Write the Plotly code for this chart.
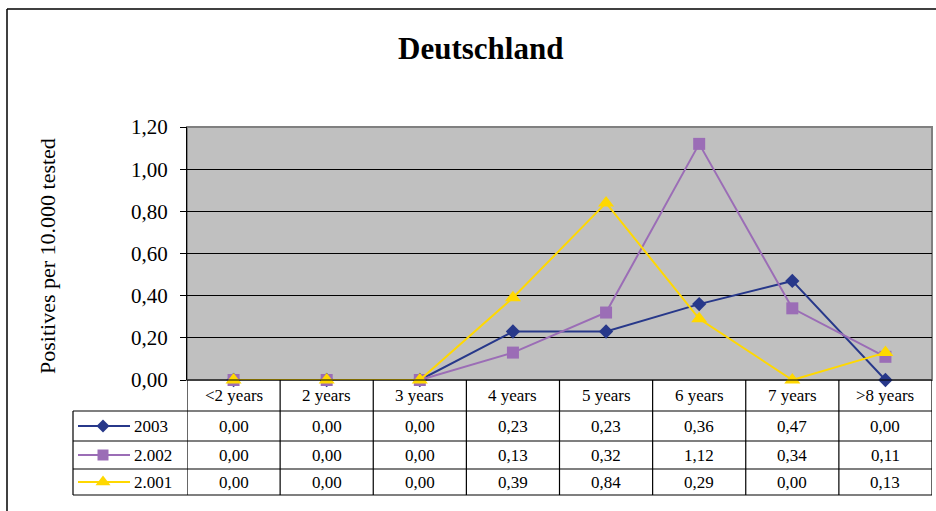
import plotly.graph_objects as go

# Age groups and rates of positives per 10.000 tested
categories = ["<2 years", "2 years", "3 years", "4 years", "5 years", "6 years", "7 years", ">8 years"]
series_names = ["2003", "2.002", "2.001"]
values_2003 = [0.00, 0.00, 0.00, 0.23, 0.23, 0.36, 0.47, 0.00]
values_2002 = [0.00, 0.00, 0.00, 0.13, 0.32, 1.12, 0.34, 0.11]
values_2001 = [0.00, 0.00, 0.00, 0.39, 0.84, 0.29, 0.00, 0.13]
y_ticks = [0.0, 0.2, 0.4, 0.6, 0.8, 1.0, 1.2]

series_values = [values_2003, values_2002, values_2001]
colors = ["#27388A", "#9B6DB6", "#FFD800"]
symbols = ["diamond", "square", "triangle-up"]
marker_sizes = [11, 12, 14]

W, H = 936, 511
SERIF = "Liberation Serif, Times New Roman, serif"


def fx(x):
    return x / W


def fy(y):
    return 1 - y / H


# pixel layout of the plot area and data table
PL, PR, PT, PB = 187, 932, 127, 380
TL = 73
ROW_LINES = [411, 441, 469, 495]
ROW_CENTERS = [426, 455, 482]
HEADER_CENTER = 395

fig = go.Figure()

for name, vals, col, sym, ms in zip(series_names, series_values, colors, symbols, marker_sizes):
    fig.add_trace(go.Scatter(
        x=categories, y=vals, name=name, mode="lines+markers",
        line=dict(color=col, width=2),
        marker=dict(symbol=sym, size=ms, color=col),
        cliponaxis=False, showlegend=False, hoverinfo="skip",
    ))

# legend keys inside the data table (pixel-coordinate overlay axes)
for name, col, sym, ms, rc in zip(series_names, colors, symbols, marker_sizes, ROW_CENTERS):
    fig.add_trace(go.Scatter(
        x=[78, 130], y=[rc, rc], mode="lines", line=dict(color=col, width=2),
        xaxis="x2", yaxis="y2", showlegend=False, hoverinfo="skip",
    ))
    fig.add_trace(go.Scatter(
        x=[103], y=[rc], mode="markers", marker=dict(symbol=sym, size=ms - 1, color=col),
        xaxis="x2", yaxis="y2", showlegend=False, hoverinfo="skip",
    ))

shapes = []
# outer chart frame
shapes.append(dict(type="line", xref="paper", yref="paper", x0=fx(7), x1=fx(7), y0=fy(9), y1=0,
                   line=dict(color="black", width=1.5)))
shapes.append(dict(type="line", xref="paper", yref="paper", x0=fx(7), x1=1, y0=fy(9), y1=fy(9),
                   line=dict(color="black", width=1.5)))
# gray plot area
shapes.append(dict(type="rect", xref="x domain", yref="y domain", x0=0, x1=1, y0=0, y1=1,
                   fillcolor="#C0C0C0", line=dict(color="#808080", width=2), layer="below"))

# table horizontal lines
shapes.append(dict(type="line", xref="paper", yref="paper", x0=fx(PL), x1=fx(PR), y0=fy(PB), y1=fy(PB),
                   line=dict(color="black", width=1.2)))
for ry in ROW_LINES:
    shapes.append(dict(type="line", xref="paper", yref="paper", x0=fx(TL), x1=fx(PR), y0=fy(ry), y1=fy(ry),
                       line=dict(color="black", width=1.2)))
# table vertical lines
shapes.append(dict(type="line", xref="paper", yref="paper", x0=fx(TL), x1=fx(TL),
                   y0=fy(ROW_LINES[0]), y1=fy(ROW_LINES[-1]), line=dict(color="black", width=1.2)))
for i in range(len(categories) + 1):
    shapes.append(dict(type="line", xref="x", yref="paper", x0=i - 0.5, x1=i - 0.5,
                       y0=fy(PB), y1=fy(ROW_LINES[-1]), line=dict(color="black", width=1.2)))

annotations = [
    dict(text="<b>Deutschland</b>", xref="paper", yref="paper", x=fx(481), y=fy(49),
         showarrow=False, font=dict(family=SERIF, size=31, color="black"),
         xanchor="center", yanchor="middle"),
    dict(text="Positives per 10.000 tested", xref="paper", yref="paper", x=fx(47), y=fy(256),
         showarrow=False, textangle=-90, font=dict(family=SERIF, size=22, color="black"),
         xanchor="center", yanchor="middle"),
]

TABLE_FONT = dict(family=SERIF, size=17, color="black")

for c in categories:
    annotations.append(dict(text=c.replace("<", "&lt;").replace(">", "&gt;"), xref="x", yref="paper",
                            x=c, y=fy(HEADER_CENTER), showarrow=False, font=TABLE_FONT,
                            xanchor="center", yanchor="middle"))

for name, vals, rc in zip(series_names, series_values, ROW_CENTERS):
    annotations.append(dict(text=name, xref="paper", yref="paper", x=fx(132), y=fy(rc),
                            showarrow=False, font=TABLE_FONT,
                            xanchor="left", yanchor="middle"))
    for c, v in zip(categories, vals):
        annotations.append(dict(text=f"{v:.2f}".replace(".", ","), xref="x", yref="paper",
                                x=c, y=fy(rc), showarrow=False, font=TABLE_FONT,
                                xanchor="center", yanchor="middle"))

fig.update_layout(
    template="none",
    width=W, height=H,
    autosize=False,
    margin=dict(l=0, r=0, t=0, b=0, pad=0),
    paper_bgcolor="white",
    plot_bgcolor="rgba(0,0,0,0)",
    separators=", ",
    showlegend=False,
    xaxis=dict(domain=[fx(PL), fx(PR)], type="category", range=[-0.5, len(categories) - 0.5],
               showticklabels=False, showgrid=False, zeroline=False, showline=False, ticks="",
               automargin=False),
    yaxis=dict(domain=[fy(PB), fy(PT)], range=[0, 1.2], tickvals=y_ticks, tickformat=".2f",
               showgrid=True, gridcolor="black", gridwidth=1, zeroline=False,
               showline=True, linecolor="black", linewidth=1.2,
               ticks="outside", ticklen=6, tickcolor="black", tickwidth=1.2,
               ticklabelstandoff=8, automargin=False,
               tickfont=dict(family=SERIF, size=21, color="black")),
    xaxis2=dict(domain=[0, 1], range=[0, W], visible=False, anchor="y2", fixedrange=True,
                automargin=False),
    yaxis2=dict(domain=[0, 1], range=[H, 0], visible=False, anchor="x2", fixedrange=True,
                automargin=False),
    shapes=shapes,
    annotations=annotations,
)

fig.write_html("out.html")
